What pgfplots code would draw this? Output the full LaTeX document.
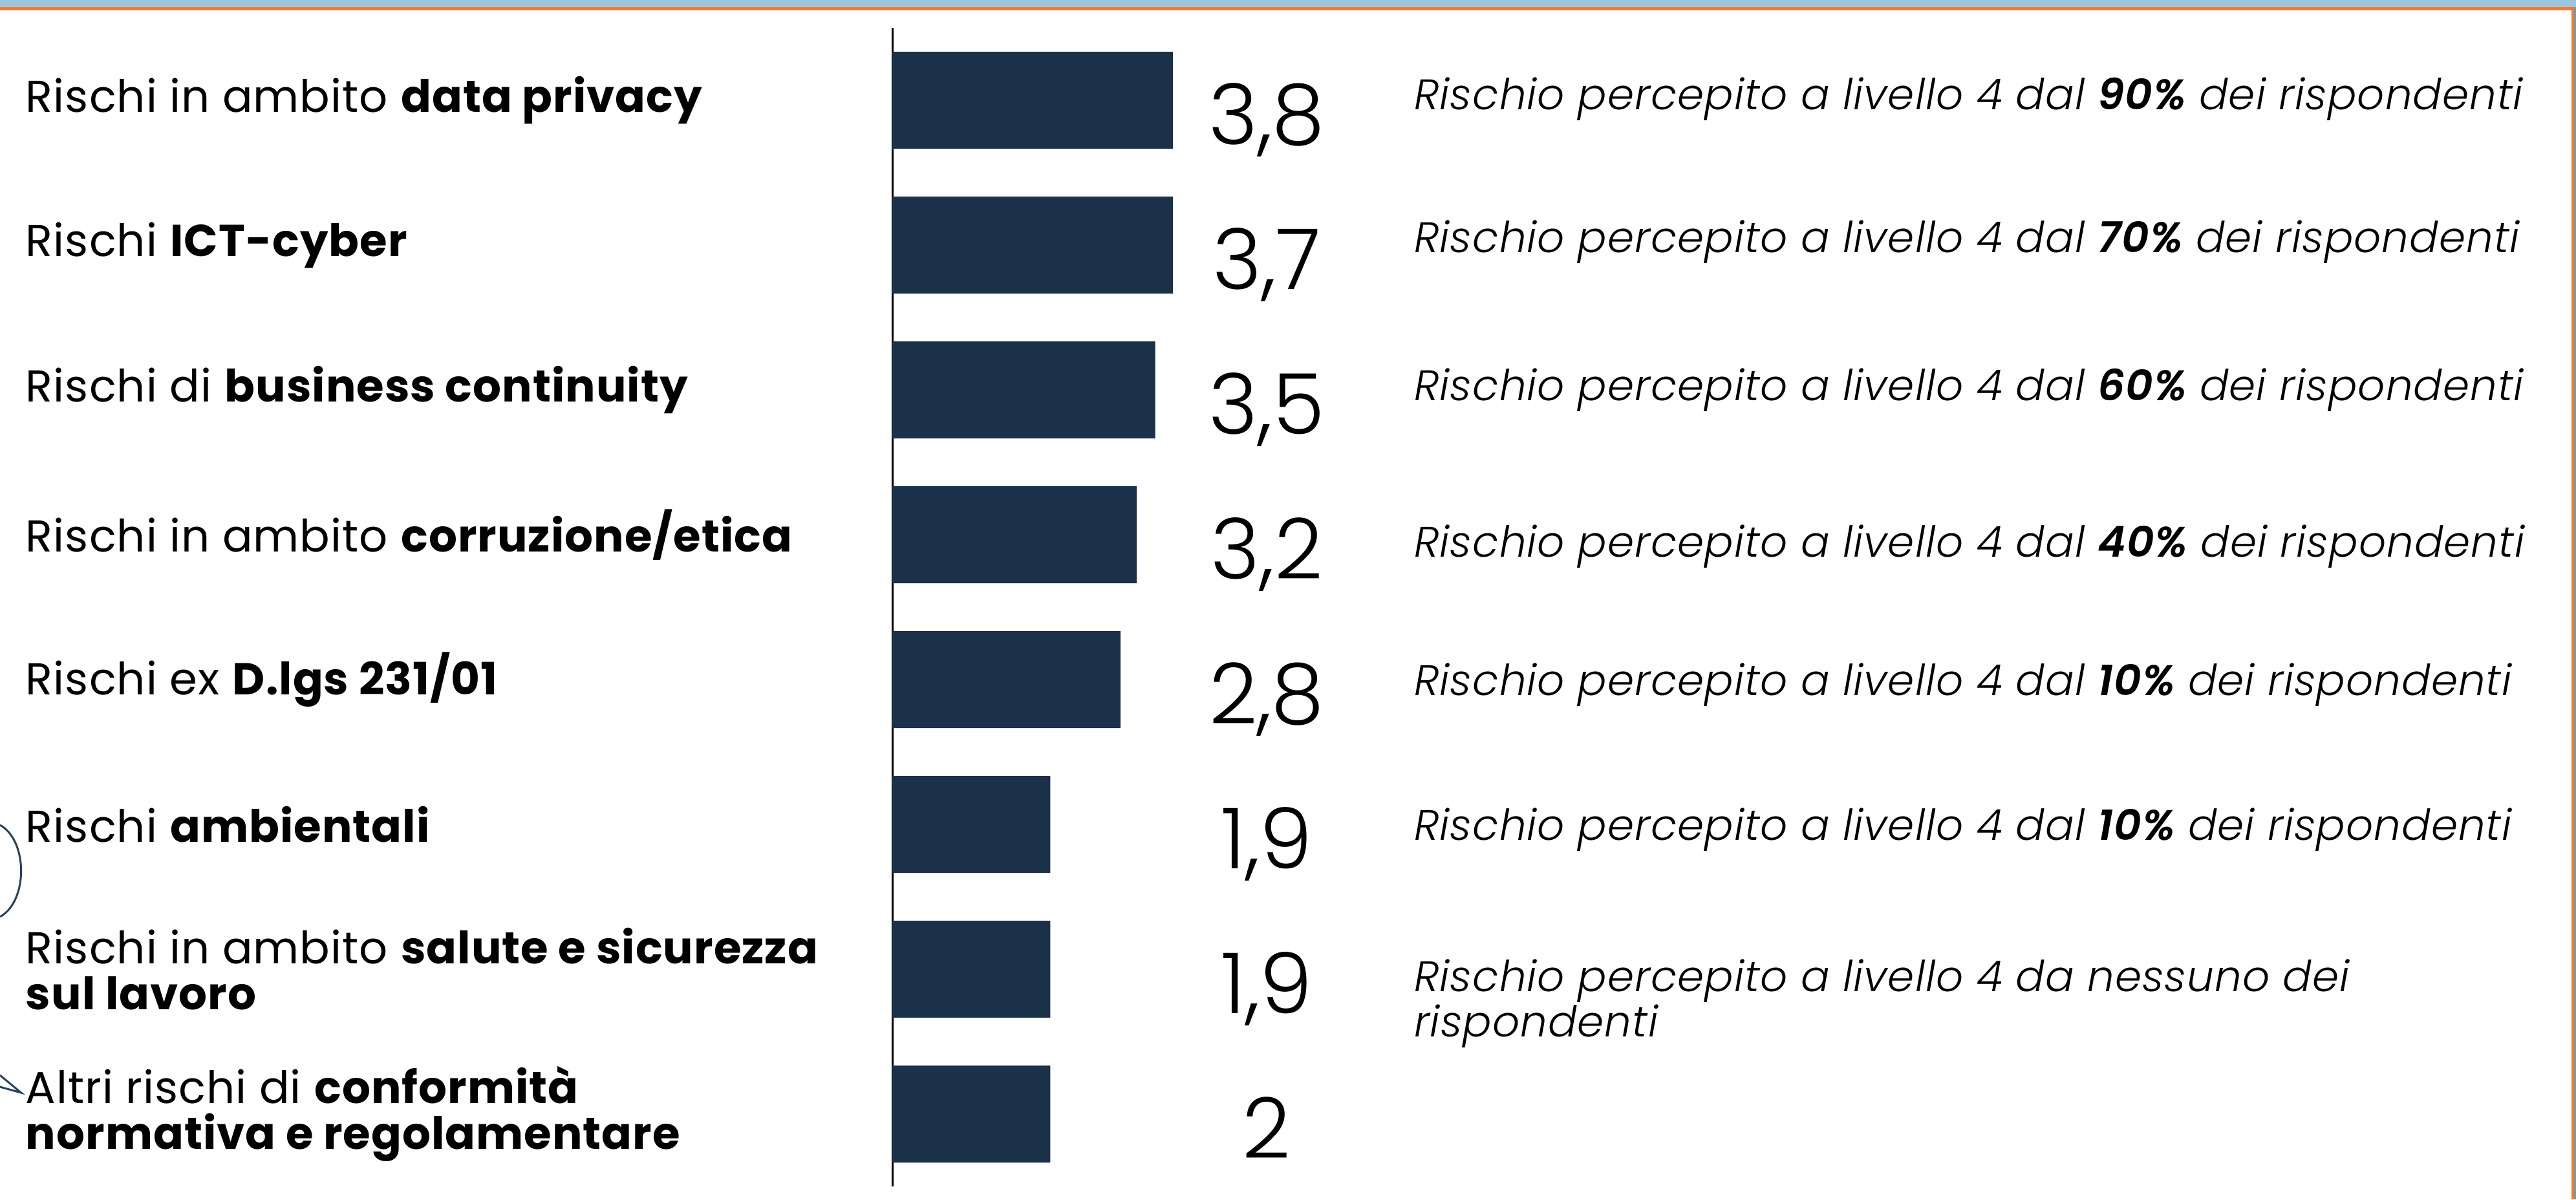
\documentclass[border=0pt]{standalone}
\usepackage{pgfplots}
\pgfplotsset{compat=1.18}
\usepackage{pgfplotstable}
\usepackage{fontspec}
\setmainfont{Poppins}[LetterSpace=1.5]
\newfontfamily\numfont{Poppins Light}
\newfontfamily\notefont{Poppins Light Italic}[LetterSpace=1.5, BoldFont={Poppins SemiBold Italic}]
\definecolor{navy}{HTML}{1B3049}
\definecolor{orangeb}{HTML}{ED7D31}
\definecolor{skyb}{HTML}{9CC5DD}
\definecolor{greyb}{HTML}{7C95A8}
\definecolor{arcc}{HTML}{2A4060}

\pgfplotstableread[col sep=semicolon]{
idx;len;lab;lx
1;3.80;3,8;5.07
2;3.80;3,7;5.07
3;3.56;3,5;5.07
4;3.31;3,2;5.07
5;3.09;2,8;5.07
6;2.14;1,9;5.07
7;2.14;1,9;5.07
8;2.14;2;5.07
}\data

\begin{document}
\begin{tikzpicture}
\useasboundingbox (0,0) rectangle (398.4pt,185.5pt);
\begin{axis}[
  at={(138pt,181.2pt)}, anchor=north west,
  x=11.42pt, y=22.4pt,
  xmin=0, xmax=4, ymin=0.5, ymax=8.5, y dir=reverse,
  axis x line=none, axis y line*=left,
  axis line style={line width=0.3pt, black},
  ytick={1,...,8}, major tick length=0pt,
  yticklabels={
    {Rischi in ambito \textbf{data privacy}},
    {Rischi \textbf{ICT-cyber}},
    {Rischi di \textbf{business continuity}},
    {Rischi in ambito \textbf{corruzione/etica}},
    {Rischi ex \textbf{D.lgs 231/01}},
    {Rischi \textbf{ambientali}},
    {Rischi in ambito \textbf{salute e sicurezza}\\\textbf{sul lavoro}},
    {Altri rischi di \textbf{conformità}\\\textbf{normativa e regolamentare}}
  },
  yticklabel style={anchor=west, xshift=-134.2pt, align=left, inner sep=0pt,
    font=\fontsize{6.9}{7.1}\selectfont, text=black},
  clip=false,
]
\addplot[xbar, bar width=15pt, bar shift=0pt, fill=navy, draw=none] table[x=len, y=idx]{\data};
\addplot[only marks, mark=*, mark size=0pt, mark options={draw=none, fill=none},
  nodes near coords, point meta=explicit symbolic,
  every node near coord/.append style={anchor=base, yshift=-6.8pt, inner sep=0pt,
    font=\numfont\fontsize{13}{13}\selectfont, text=black}]
  table[x=lx, y=idx, meta=lab]{\data};
\begin{scope}[every node/.style={anchor=base west, inner sep=0pt, font=\notefont\fontsize{6.6}{6.6}\selectfont}]
\node[yshift=-1.4pt] at (axis cs:7.05,1) {Rischio percepito a livello 4 dal \textbf{90\%} dei rispondenti};
\node[yshift=-1.15pt] at (axis cs:7.05,2) {Rischio percepito a livello 4 dal \textbf{70\%} dei rispondenti};
\node[yshift=-1.65pt] at (axis cs:7.05,3) {Rischio percepito a livello 4 dal \textbf{60\%} dei rispondenti};
\node[yshift=-3.4pt] at (axis cs:7.05,4) {Rischio percepito a livello 4 dal \textbf{40\%} dei rispondenti};
\node[yshift=-2.4pt] at (axis cs:7.05,5) {Rischio percepito a livello 4 dal \textbf{10\%} dei rispondenti};
\node[yshift=-2.4pt] at (axis cs:7.05,6) {Rischio percepito a livello 4 dal \textbf{10\%} dei rispondenti};
\node[yshift=-3.4pt] at (axis cs:7.05,7) {Rischio percepito a livello 4 da nessuno dei};
\node[yshift=-10.4pt] at (axis cs:7.05,7) {rispondenti};
\end{scope}
\end{axis}
% slide decoration
\fill[skyb] (0,184.4pt) rectangle (398.4pt,185.5pt);
\fill[orangeb] (0,183.9pt) rectangle (398.1pt,184.4pt);
\fill[orangeb] (397.7pt,0) rectangle (398.1pt,184.4pt);
\fill[greyb] (398.1pt,0) rectangle (398.4pt,184.4pt);
\draw[arcc, line width=0.3pt] (0,57.9pt) .. controls (4.35pt,55.5pt) and (4.35pt,46.1pt) .. (0,43.7pt);
\draw[arcc, line width=0.3pt] (0,19.2pt) -- (3.26pt,16.5pt) -- (0,17.4pt);
\end{tikzpicture}
\end{document}
